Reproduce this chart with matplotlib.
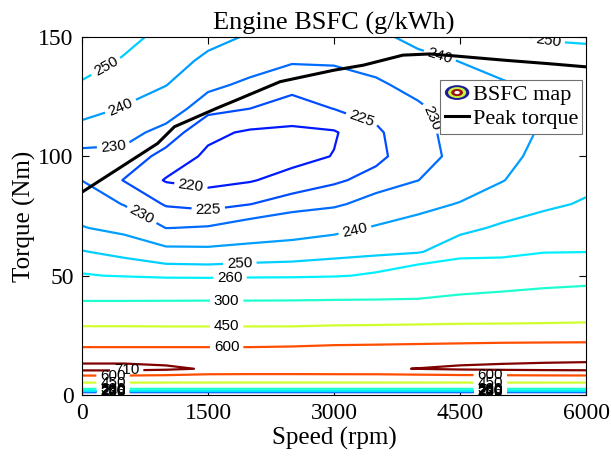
import numpy as np
import matplotlib
matplotlib.use('Agg')
import matplotlib.pyplot as plt
from matplotlib.legend_handler import HandlerBase
from matplotlib.lines import Line2D
from matplotlib.patches import Ellipse

# engine map breakpoints
speed = [0, 500, 1000, 1500, 2000, 2500, 3000, 3500, 4000, 4500, 5000, 5500, 6000]
torque = [0, 5, 11, 20, 30, 40, 50, 60, 70, 80, 90, 100, 110, 120, 130, 140, 150]

# BSFC (g/kWh), one row per torque breakpoint
bsfc_t0 = [150, 150, 150, 150, 150, 150, 150, 150, 150, 150, 150, 150, 150]
bsfc_t5 = [440, 440, 440, 440, 440, 440, 440, 440, 440, 440, 440, 440, 440]
bsfc_t11 = [745, 745, 730, 700, 695, 695, 698, 700, 712, 725, 732, 738, 742]
bsfc_t20 = [601, 601, 601, 601, 601, 606, 616, 620, 625, 630, 635, 637, 638]
bsfc_t30 = [430, 430, 428, 428, 428, 428, 435, 438, 442, 447, 449, 452, 456]
bsfc_t40 = [292, 292, 293, 294, 294, 295, 298, 300, 301, 307.5, 312, 314, 317]
bsfc_t50 = [261, 259, 257, 256.6, 257.2, 257.5, 258.6, 262, 269.5, 272, 276, 284.6, 287.4]
bsfc_t60 = [250.6, 247, 242.9, 242.5, 243.8, 244.8, 246.6, 247.8, 249.2, 255.4, 255, 259.1, 259.7]
bsfc_t70 = [240.5, 237.3, 229.9, 230.5, 233.1, 235.1, 237.4, 240.9, 243.5, 247.8, 251.3, 253.7, 255.2]
bsfc_t80 = [235.1, 229.6, 224.5, 223.3, 224.9, 227.4, 228.8, 232.8, 237.3, 240.5, 245.3, 248.5, 250.8]
bsfc_t90 = [229.9, 224.8, 219.6, 218.5, 219.6, 221.9, 224.2, 226.7, 229.9, 235, 239.6, 245, 248]
bsfc_t100 = [227, 228.1, 223.3, 219, 217.5, 218.2, 220.2, 223.8, 228, 231.5, 237.5, 242.5, 246]
bsfc_t110 = [235.8, 232.3, 227.8, 221.2, 219.3, 219, 219.5, 224.2, 228.5, 231.8, 236.5, 241, 244.5]
bsfc_t120 = [243.9, 239.3, 233.7, 226.4, 225, 222.7, 225.1, 226.5, 228.8, 233.5, 237, 240.5, 244]
bsfc_t130 = [248.9, 244.3, 240.3, 231.6, 228.6, 226.7, 228, 228.8, 232.4, 236.5, 239, 242, 245]
bsfc_t140 = [254.5, 249, 243.7, 238.2, 233.1, 230.5, 230.5, 232.7, 237.5, 240.2, 243.5, 245, 247.5]
bsfc_t150 = [260, 253, 247, 242.5, 239.2, 234, 234, 238, 242.5, 245, 248, 251, 251]

bsfc = np.array([bsfc_t0, bsfc_t5, bsfc_t11, bsfc_t20, bsfc_t30, bsfc_t40, bsfc_t50,
                 bsfc_t60, bsfc_t70, bsfc_t80, bsfc_t90, bsfc_t100, bsfc_t110,
                 bsfc_t120, bsfc_t130, bsfc_t140, bsfc_t150])

levels = [220, 225, 230, 240, 250, 260, 300, 450, 600, 710]
level_colors = ['#001aff', '#004dff', '#006bff', '#009eff', '#00cfff',
                '#00f0ff', '#1effd1', '#d1ff2e', '#ff4d00', '#800000']

# peak torque curve
peak_speed = [0, 900, 1100, 1600, 1840, 2360, 3000, 3350, 3820, 4140, 4460, 5020, 5530, 6000]
peak_torque = [85, 105.4, 112.4, 120.1, 123.6, 131.3, 136.1, 138.2, 142.4, 142.9, 142, 140.3, 138.9, 137.5]

# where the contour labels sit (speed, torque)
label_spots = {
    220: [(1286, 85), (370, 1.2), (4860, 1.2)],
    225: [(1504, 77.5), (3329, 115.5), (370, 1.3), (4860, 1.3)],
    230: [(373, 106), (690, 74), (4143, 115.9), (370, 1.4), (4860, 1.4)],
    240: [(472, 120), (4262, 142.4), (3250, 68.8), (370, 1.55), (4860, 1.55)],
    250: [(294, 137), (5548, 147.3), (1881, 53), (370, 1.7), (4860, 1.7)],
    260: [(1762, 48.2), (370, 1.9), (4860, 1.9)],
    300: [(1722, 38.7), (370, 2.6), (4860, 2.6)],
    450: [(1722, 28.3), (370, 5.2), (4860, 5.2)],
    600: [(1722, 20), (370, 8.1), (4860, 8.1)],
    710: [(532, 9.8)],
}

plt.rcParams['font.family'] = ['Liberation Serif', 'DejaVu Serif']


class ContourIcon(HandlerBase):
    def create_artists(self, legend, orig_handle, xdescent, ydescent,
                       width, height, fontsize, trans):
        cx = 0.5 * width - xdescent
        cy = 0.5 * height - ydescent
        rings = [(1.0, '#1c1c96'), (0.74, '#c8f03c'), (0.48, '#a01010'), (0.22, 'white')]
        arts = []
        for k, c in rings:
            arts.append(Ellipse((cx, cy), width * k, height * 0.95 * k,
                                facecolor=c, edgecolor='none', transform=trans))
        return arts


class ContourProxy:
    pass


fig = plt.figure(figsize=(6.11, 4.62), dpi=100)
ax = fig.add_axes([0.1342, 0.145, 0.8249, 0.7749])

# one contour set per level so each label goes on the right line
with plt.rc_context({'font.family': ['Liberation Sans', 'DejaVu Sans']}):
    for lev, col in zip(levels, level_colors):
        cs = ax.contour(speed, torque, bsfc, levels=[lev], colors=[col], linewidths=1.6)
        cs.clabel(manual=label_spots[lev], inline=True, inline_spacing=4,
                  fmt='%d', fontsize=11, colors='k')

ax.plot(peak_speed, peak_torque, color='k', lw=2.2, zorder=5)

ax.set_xlim(0, 6000)
ax.set_ylim(0, 150)
ax.set_xticks([0, 1500, 3000, 4500, 6000])
ax.set_yticks([0, 50, 100, 150])
ax.tick_params(direction='in', top=True, right=True, length=5, width=0.8,
               labelsize=17, pad=6)
for s in ax.spines.values():
    s.set_linewidth(0.8)

ax.set_title('Engine BSFC (g/kWh)', fontsize=19, pad=5)
ax.set_xlabel('Speed (rpm)', fontsize=18, labelpad=2)
ax.set_ylabel('Torque (Nm)', fontsize=18, labelpad=2)

handles = [ContourProxy(), Line2D([], [], color='k', lw=2.2)]
leg = ax.legend(handles, ['BSFC map', 'Peak torque'],
                handler_map={ContourProxy: ContourIcon()},
                loc='upper right', bbox_to_anchor=(0.993, 0.879), borderaxespad=0,
                fontsize=16, fancybox=False, framealpha=1, edgecolor='#707070',
                handlelength=1.1, handletextpad=0.15, borderpad=0.2,
                labelspacing=0.15)
leg.get_frame().set_linewidth(0.8)
leg.set_zorder(10)

fig.savefig('out.png', dpi=100)
